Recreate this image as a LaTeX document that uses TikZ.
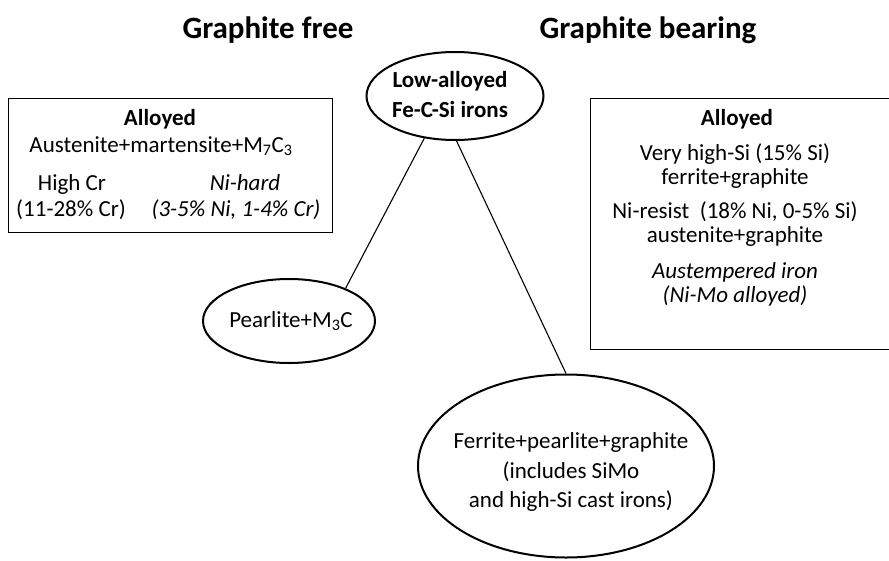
\documentclass[tikz,border=0pt]{standalone}
\usepackage{fontspec}
\setmainfont{Carlito}
\usetikzlibrary{shapes.geometric}
\begin{document}
\begin{tikzpicture}[x=1pt,y=-1pt,
  ell/.style={ellipse, draw, line width=2pt, inner sep=0pt},
  txt/.style={anchor=base, inner sep=0pt, font=\fontsize{23}{28}\selectfont},
  btxt/.style={txt, font=\fontsize{23}{28}\selectfont\bfseries},
  itxt/.style={txt, font=\fontsize{23}{28}\selectfont\itshape},
  ttl/.style={anchor=base, inner sep=0pt, font=\fontsize{31}{36}\selectfont\bfseries},
  boxnode/.style={draw, line width=1pt, rectangle, inner sep=0pt, anchor=north west},
  conn/.style={line width=1.1pt}]
\useasboundingbox (0,0) rectangle (889,560);

% titles
\node[ttl] (tfree) at (268,38) {Graphite free};
\node[ttl] (tbear) at (648,38) {Graphite bearing};

% top ellipse
\node[ell, minimum width=177, minimum height=88] (top) at (455,96) {};
\node[btxt] (top1) at (450,87) {Low-alloyed};
\node[btxt] (top2) at (450,117) {Fe-C-Si irons};

% left box
\node[boxnode, minimum width=324, minimum height=134] (lbox) at (8,98) {};
\node[btxt] (l1) at (160,125) {Alloyed};
\node[txt] (l2) at (161,152) {Austenite+martensite+M\textsubscript{7}C\textsubscript{3}};
\node[txt] (l3) at (72,190) {High Cr};
\node[txt] (l4) at (71,216) {(11-28\% Cr)};
\node[itxt] (l5) at (245,190) {Ni-hard};
\node[itxt] (l6) at (236,216) {(3-5\% Ni, 1-4\% Cr)};

% right box
\node[boxnode, minimum width=310, minimum height=251] (rbox) at (590,98) {};
\node[btxt] (r1) at (737,125) {Alloyed};
\node[txt] (r2) at (735,160) {Very high-Si (15\% Si)};
\node[txt] (r3) at (735,184) {ferrite+graphite};
\node[txt] (r4) at (735,218) {Ni-resist\ \ (18\% Ni, 0-5\% Si)};
\node[txt] (r5) at (735,242) {austenite+graphite};
\node[itxt] (r6) at (735,278) {Austempered iron};
\node[itxt] (r7) at (735,302) {(Ni-Mo alloyed)};

% pearlite ellipse
\node[ell, minimum width=172, minimum height=84] (pearl) at (289,321) {};
\node[txt] (p1) at (291,327) {Pearlite+M\textsubscript{3}C};

% big ellipse
\node[ell, minimum width=296, minimum height=183] (big) at (566,466) {};
\node[txt] (b1) at (571,448) {Ferrite+pearlite+graphite};
\node[txt] (b2) at (571,478) {(includes SiMo};
\node[txt] (b3) at (571,507) {and high-Si cast irons)};

% connectors
\draw[conn] (top.234) -- (pearl.30);
\draw[conn] (top.272) -- (big.north);
\end{tikzpicture}
\end{document}
